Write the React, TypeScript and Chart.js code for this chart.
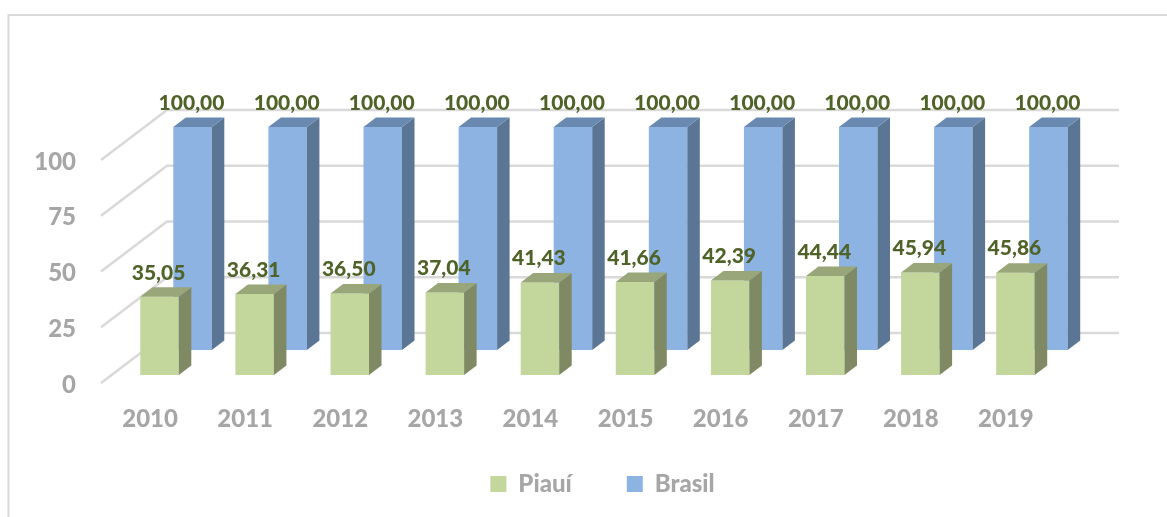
import React, { useEffect, useRef } from "react";
import { Chart, registerables } from "chart.js";

Chart.register(...registerables);

const categories = ["2010", "2011", "2012", "2013", "2014", "2015", "2016", "2017", "2018", "2019"];
const piaui = [35.05, 36.31, 36.5, 37.04, 41.43, 41.66, 42.39, 44.44, 45.94, 45.86];
const brasil = [100, 100, 100, 100, 100, 100, 100, 100, 100, 100];
const wallTicks = [0, 25, 50, 75, 100];

const FONT = "Lato, Carlito, sans-serif";
const GREY = "#a6a6a6";
const LABEL = "#4f6228";
const GRID = "#d9d9d9";

const faces = [
  { front: "#c3d69b", side: "#7f8a65", top: "#98a67a" },
  { front: "#8db3e2", side: "#5b7595", top: "#6a89b0" },
];

const scene = {
  id: "scene",
  afterLayout(chart: any) {
    const lg = chart.legend;
    lg.left += 71;
    lg.right += 71;
    lg.top = 417;
    lg.bottom = 517;
  },
  beforeDraw(chart: any) {
    const c = chart.ctx;
    c.save();
    c.strokeStyle = GRID;
    c.lineWidth = 2;
    c.beginPath();
    c.moveTo(8.5, 517);
    c.lineTo(8.5, 15);
    c.lineTo(1167, 15);
    c.stroke();
    c.restore();
  },
  beforeDatasetsDraw(chart: any) {
    const c = chart.ctx;
    const wall = chart.scales.yWall;
    const x = chart.scales.x;
    c.save();
    c.strokeStyle = GRID;
    c.lineWidth = 2.5;
    wallTicks.forEach((t) => {
      const p = wall.getPixelForValue(t);
      c.beginPath();
      c.moveTo(x.left - 11, p);
      c.lineTo(x.left + 55, p - 50);
      c.lineTo(x.right + 56, p - 50);
      c.stroke();
    });
    c.restore();
  },
  beforeDatasetDraw(chart: any, args: any) {
    chart.ctx.save();
    if (args.index === 1) chart.ctx.translate(33, -25);
  },
  afterDatasetDraw(chart: any, args: any) {
    const c = chart.ctx;
    const f = faces[args.index];
    const dx = 12.5;
    const dy = -9.5;
    args.meta.data.forEach((el: any) => {
      const l = el.x - el.width / 2;
      const r = el.x + el.width / 2;
      c.fillStyle = f.side;
      c.beginPath();
      c.moveTo(r, el.y);
      c.lineTo(r + dx, el.y + dy);
      c.lineTo(r + dx, el.base + dy);
      c.lineTo(r, el.base);
      c.closePath();
      c.fill();
      c.fillStyle = f.top;
      c.beginPath();
      c.moveTo(l, el.y);
      c.lineTo(l + dx, el.y + dy);
      c.lineTo(r + dx, el.y + dy);
      c.lineTo(r, el.y);
      c.closePath();
      c.fill();
    });
    c.restore();
  },
  afterDatasetsDraw(chart: any) {
    const c = chart.ctx;
    c.save();
    c.font = `900 21px ${FONT}`;
    c.fillStyle = LABEL;
    c.textAlign = "center";
    c.textBaseline = "middle";
    chart.data.datasets.forEach((ds: any, d: number) => {
      const off = d === 1 ? { x: 33, y: -25 } : { x: 0, y: 0 };
      chart.getDatasetMeta(d).data.forEach((el: any, i: number) => {
        const text = ds.data[i].toFixed(2).replace(".", ",");
        c.fillText(text, el.x + off.x - 1, el.y + off.y - 24);
      });
    });
    c.restore();
  },
};

export default function App() {
  const ref = useRef<HTMLCanvasElement>(null);
  useEffect(() => {
    const chart = new Chart(ref.current as HTMLCanvasElement, {
      type: "bar",
      data: {
        labels: categories,
        datasets: [
          { label: "Piauí", data: piaui, backgroundColor: faces[0].front, yAxisID: "y", clip: false as any },
          { label: "Brasil", data: brasil, backgroundColor: faces[1].front, yAxisID: "y", clip: false as any },
        ],
      },
      options: {
        responsive: false,
        animation: false,
        layout: { padding: { top: 110, right: 104, left: 0, bottom: 0 } },
        datasets: { bar: { grouped: false, categoryPercentage: 1, barPercentage: 0.405 } },
        plugins: {
          tooltip: { enabled: false },
          legend: {
            position: "bottom",
            labels: {
              boxWidth: 16,
              boxHeight: 16,
              padding: 55,
              color: GREY,
              font: { family: FONT, size: 24, weight: "900" },
            },
          },
        },
        scales: {
          x: {
            grid: { display: false, drawTicks: false },
            border: { display: false },
            afterFit: (s: any) => {
              s.height = 45;
            },
            ticks: {
              color: GREY,
              padding: 22,
              labelOffset: -9.5,
              maxRotation: 0,
              autoSkip: false,
              font: { family: FONT, size: 24, weight: "900" },
            },
          },
          y: { display: false, min: -3.587, max: 118.83 },
          yWall: {
            position: "left",
            min: 0,
            max: 122.42,
            grid: { display: false, drawTicks: false },
            border: { display: false },
            afterFit: (s: any) => {
              s.width = 112;
            },
            ticks: {
              stepSize: 25,
              includeBounds: false,
              color: GREY,
              padding: 36,
              labelOffset: 2,
              font: { family: FONT, size: 24, weight: "900" },
            },
          },
        },
      } as any,
      plugins: [scene as any],
    });
    return () => chart.destroy();
  }, []);
  return (
    <canvas
      ref={ref}
      width={1167}
      height={517}
      style={{ position: "fixed", left: 0, top: 0, display: "block" }}
    />
  );
}
